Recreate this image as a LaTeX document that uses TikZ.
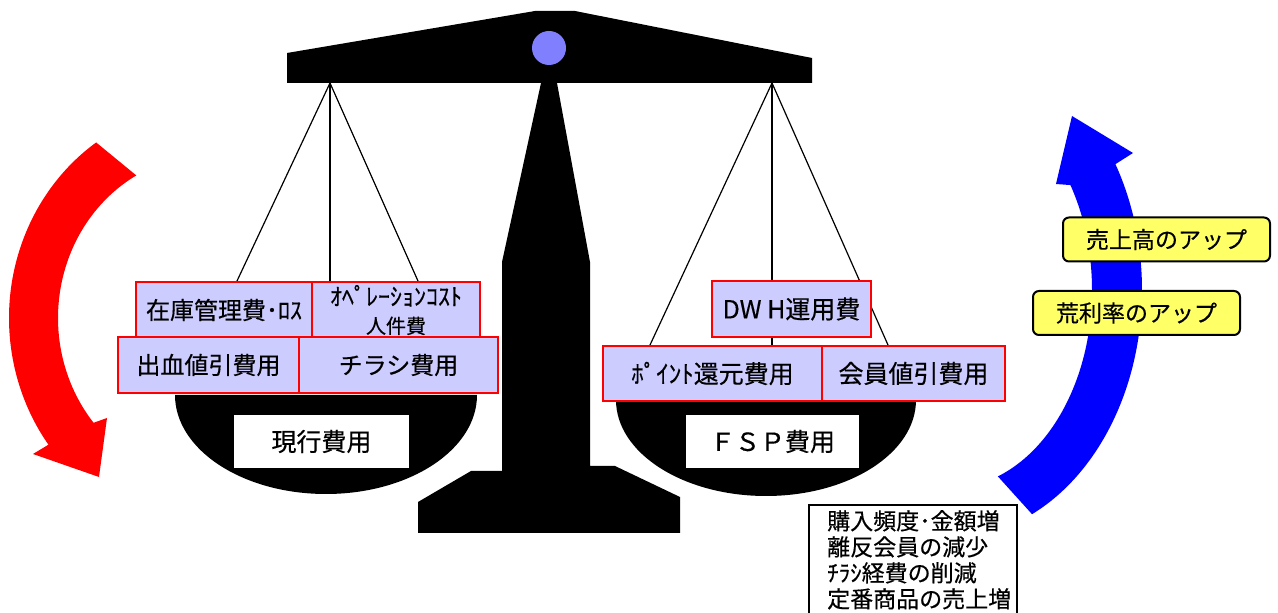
\documentclass[tikz,border=0pt]{standalone}
\usepackage{fontspec}
\newfontfamily\jpfont[FakeBold=0.4]{Noto Sans CJK JP}
\usetikzlibrary{calc}
\pgfdeclarelayer{background}
\pgfsetlayers{background,main}
\definecolor{costFill}{RGB}{204,204,255}
\definecolor{costLine}{RGB}{255,0,0}
\definecolor{upFill}{RGB}{255,255,102}
\definecolor{knobFill}{RGB}{128,128,255}
\definecolor{arrowRed}{RGB}{255,0,0}
\definecolor{arrowBlue}{RGB}{0,0,255}

\begin{document}
\begin{tikzpicture}[x=1pt,y=1pt,
  costbox/.style={draw=costLine,line width=2pt,fill=costFill,inner sep=0pt,
    align=center,font=\jpfont\fontsize{24}{30}\selectfont},
  panlabel/.style={fill=white,inner sep=0pt,minimum width=175pt,minimum height=53pt,
    font=\jpfont\fontsize{25}{30}\selectfont},
  upbox/.style={draw=black,line width=2pt,fill=upFill,rounded corners=6pt,inner sep=0pt,
    minimum width=207pt,minimum height=44pt,font=\jpfont\fontsize{23}{28}\selectfont},
  notetext/.style={inner sep=0pt,align=left,font=\jpfont\fontsize{23}{26}\selectfont},
  hanger/.style={draw=black,line width=1.2pt}]
\useasboundingbox (0,0) rectangle (1278,613);
\begin{pgfonlayer}{background}
\path[fill=white] (0,0) rectangle (1278,613);
\end{pgfonlayer}

% beam, pole and foot
\path[fill=black] (287,530) -- (287,560) -- (535,602) -- (575,602) -- (812,555) -- (812,530) -- cycle;
\path[fill=black] (541,530) -- (557,530) -- (590,351) -- (590,147) -- (615,147) -- (680,116) --
	(680,80) -- (418,80) -- (418,111) -- (471,142) -- (502,142) -- (502,351) -- cycle;
\path[fill=knobFill] (549,565) circle[radius=17];

% pans
\path[fill=black] (175,218) arc[start angle=180,end angle=360,x radius=151,y radius=99] -- cycle;
\path[fill=black] (616,213) arc[start angle=180,end angle=360,x radius=150,y radius=96] -- cycle;

\coordinate (lpivot) at (330,530);
\coordinate (rpivot) at (772,530);

% curved arrows
\coordinate (redc) at (210,295);
\path[fill=arrowRed] ($(redc)+(124.5:201 and 213)$)
	arc[start angle=124.5,end angle=216.5,x radius=201,y radius=213] --
	(33,159) -- (99,136) -- (107,195) --
	($(redc)+(220:152 and 163)$)
	arc[start angle=220,end angle=119,x radius=152,y radius=163] -- cycle;

\coordinate (bluec) at (950,323);
\path[fill=arrowBlue] ($(bluec)+(-64.7:192 and 248)$)
	arc[start angle=-64.7,end angle=30.5,x radius=192,y radius=248] --
	(1133,460) -- (1072,497) -- (1056,429) --
	($(bluec)+(32:142 and 198)$)
	arc[start angle=32,end angle=-70.3,x radius=142,y radius=198] -- cycle;

% cost items, left pan
\node[costbox,minimum width=176pt,minimum height=56pt] (zaiko) at (224,303) {在庫管理費･ﾛｽ};
\node[costbox,minimum width=168pt,minimum height=56pt] (opcost) at (396,303)
	{{\fontsize{24}{26}\selectfont ｵﾍﾟﾚｰｼｮﾝｺｽﾄ}\\[-2pt]{\fontsize{20}{24}\selectfont 人件費}};
\node[costbox,minimum width=181pt,minimum height=56pt] (shukketsu) at (208.5,248) {出血値引費用};
\node[costbox,minimum width=199pt,minimum height=56pt] (chirashi) at (398.5,248) {チラシ費用};

% cost items, right pan
\node[costbox,minimum width=159pt,minimum height=56pt,font=\jpfont\fontsize{25}{30}\selectfont] (dwh) at (791.5,304) {DW H運用費};
\node[costbox,minimum width=219pt,minimum height=55pt,font=\jpfont\fontsize{25}{30}\selectfont] (point) at (712.5,239.5) {ﾎﾟｲﾝﾄ還元費用};
\node[costbox,minimum width=183pt,minimum height=55pt,font=\jpfont\fontsize{25}{30}\selectfont] (kaiin) at (913.5,239.5) {会員値引費用};

\begin{pgfonlayer}{background}
\path[hanger] (lpivot) -- ([xshift=13pt]zaiko.north);
\path[hanger] (lpivot) -- ([xshift=-66pt]opcost.north);
\path[hanger] (lpivot) -- ([xshift=22pt]opcost.north);
\path[hanger] (rpivot) -- ([xshift=-62.5pt]point.north);
\path[hanger] (rpivot) -- ([xshift=59.5pt]point.north);
\path[hanger] (rpivot) -- ([xshift=-25.5pt]kaiin.north);
\end{pgfonlayer}

\node[panlabel] (current) at (321.5,171.5) {現行費用};
\node[panlabel,minimum width=173pt] (fsp) at (772.5,171.5) {ＦＳＰ費用};

% effects
\node[upbox] (sales) at (1166.5,373.5) {売上高のアップ};
\node[upbox] (margin) at (1136.5,300) {荒利率のアップ};

\path[draw=black,line width=2pt] (809,-5) rectangle (1017,108);
\node[notetext,anchor=north west] (notes) at (827,103)
	{購入頻度･金額増\\離反会員の減少\\ﾁﾗｼ経費の削減\\定番商品の売上増};
\end{tikzpicture}
\end{document}
